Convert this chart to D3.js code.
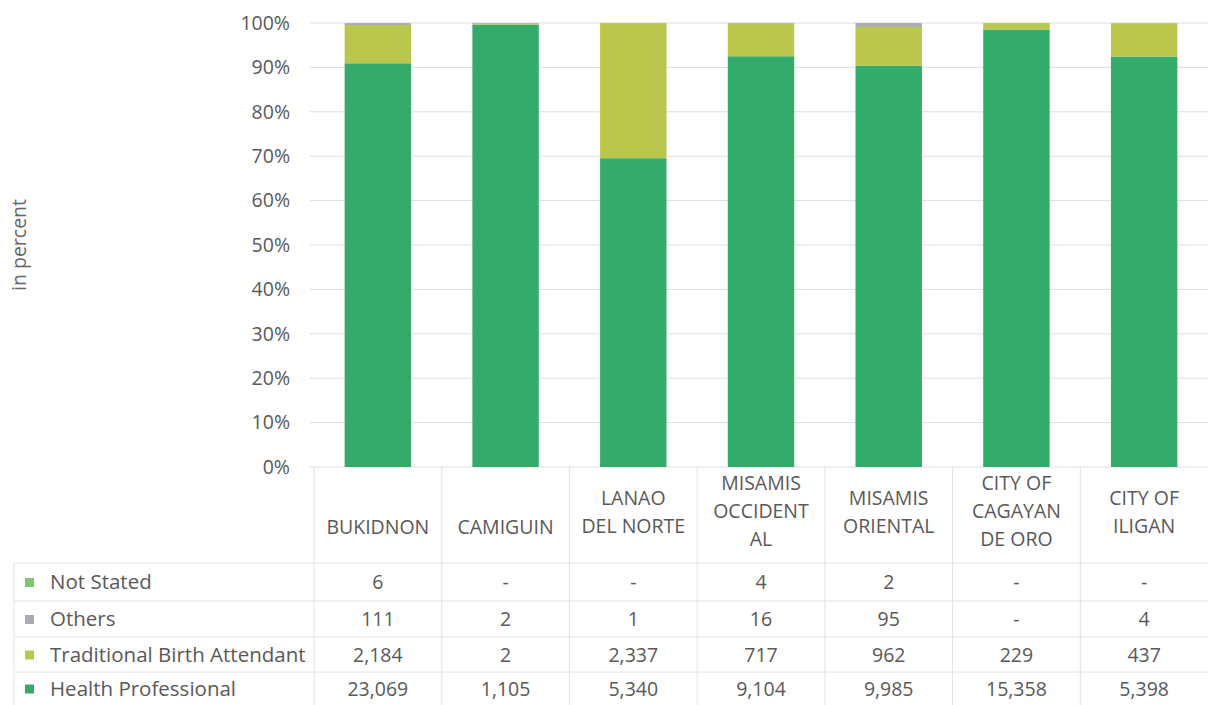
<!DOCTYPE html>
<html>
<head>
<meta charset="utf-8">
<script src="https://cdn.jsdelivr.net/npm/d3@7"></script>
<style>
  body { margin: 0; background: #fff; }
  svg { font-family: "Open Sans", sans-serif; }
</style>
</head>
<body>
<div id="chart"></div>
<script>
// data
const categories = ['BUKIDNON', 'CAMIGUIN', 'LANAO DEL NORTE', 'MISAMIS OCCIDENTAL', 'MISAMIS ORIENTAL', 'CITY OF CAGAYAN DE ORO', 'CITY OF ILIGAN'];
const categoryLines = [['BUKIDNON'], ['CAMIGUIN'], ['LANAO', 'DEL NORTE'], ['MISAMIS', 'OCCIDENT', 'AL'], ['MISAMIS', 'ORIENTAL'], ['CITY OF', 'CAGAYAN', 'DE ORO'], ['CITY OF', 'ILIGAN']];
const healthProfessional = [23069, 1105, 5340, 9104, 9985, 15358, 5398];
const traditionalBirthAttendant = [2184, 2, 2337, 717, 962, 229, 437];
const others = [111, 2, 1, 16, 95, null, 4];
const notStated = [6, null, null, 4, 2, null, null];
const yTicks = [0, 0.1, 0.2, 0.3, 0.4, 0.5, 0.6, 0.7, 0.8, 0.9, 1];

// bottom to top in the bars
const seriesNames = ['Health Professional', 'Traditional Birth Attendant', 'Others', 'Not Stated'];
const seriesValues = [healthProfessional, traditionalBirthAttendant, others, notStated];
const colors = ['#34aa6b', '#b9c84c', '#a9abb1', '#7ec56c'];

const width = 1210, height = 705;
const plotLeft = 314, plotRight = 1208, plotTop = 23, plotBottom = 467;
const fontSize = 19.5;

const svg = d3.select('#chart').append('svg')
    .attr('width', width)
    .attr('height', height);

const x = d3.scaleBand().domain(categories).range([plotLeft, plotRight]).paddingInner(0.48).paddingOuter(0.24);
const xCol = d3.scaleBand().domain(categories).range([plotLeft, plotRight]);
const y = d3.scaleLinear().domain([0, 1]).range([plotBottom, plotTop]);

// gridlines
svg.append('g')
    .selectAll('line')
    .data(yTicks)
    .enter().append('line')
    .attr('x1', plotLeft - 4)
    .attr('x2', plotRight)
    .attr('y1', d => y(d))
    .attr('y2', d => y(d))
    .attr('stroke', '#dedede')
    .attr('stroke-width', 1);

// y axis labels
const yAxis = svg.append('g')
    .attr('transform', `translate(${plotLeft - 4},0)`)
    .call(d3.axisLeft(y).tickValues(yTicks).tickFormat(d3.format('.0%')).tickSize(0).tickPadding(20));
yAxis.select('.domain').remove();
yAxis.selectAll('text')
    .attr('font-size', fontSize)
    .attr('font-family', '"Open Sans", sans-serif')
    .attr('fill', '#595959');

svg.append('text')
    .attr('transform', `translate(26,${(plotTop + plotBottom) / 2}) rotate(-90)`)
    .attr('text-anchor', 'middle')
    .attr('font-size', fontSize)
    .attr('fill', '#666')
    .text('in percent');

// stacked bars, as share of each category total
const rows = categories.map((c, i) => {
    const row = { category: c };
    seriesNames.forEach((s, k) => { row[s] = seriesValues[k][i] || 0; });
    return row;
});
const stack = d3.stack().keys(seriesNames).offset(d3.stackOffsetExpand);
const layers = stack(rows);

svg.append('g')
    .selectAll('g')
    .data(layers)
    .enter().append('g')
    .attr('fill', (d, i) => colors[i])
    .selectAll('rect')
    .data(d => d)
    .enter().append('rect')
    .attr('x', d => x(d.data.category))
    .attr('width', x.bandwidth())
    .attr('y', d => y(d[1]))
    .attr('height', d => Math.max(0, y(d[0]) - y(d[1])));

// data table
const rowLines = [plotBottom, 563, 601, 637, 672, 705];
const tableLeft = 14;
const grid = svg.append('g').attr('stroke', '#e2e2e2').attr('stroke-width', 1);
grid.selectAll('line.h')
    .data(rowLines.slice(1, 5))
    .enter().append('line')
    .attr('x1', tableLeft)
    .attr('x2', plotRight)
    .attr('y1', d => d)
    .attr('y2', d => d);
grid.selectAll('line.v')
    .data(categories)
    .enter().append('line')
    .attr('x1', d => xCol(d))
    .attr('x2', d => xCol(d))
    .attr('y1', plotBottom)
    .attr('y2', height);
grid.append('line')
    .attr('x1', tableLeft).attr('x2', tableLeft)
    .attr('y1', rowLines[1]).attr('y2', height);

// header labels
const header = svg.append('g')
    .selectAll('text')
    .data(categories)
    .enter().append('text')
    .attr('text-anchor', 'middle')
    .attr('font-size', fontSize)
    .attr('fill', '#595959');
header.each(function(d, i) {
    const lines = categoryLines[i];
    const first = lines.length === 3 ? 490 : 534 - (lines.length - 1) * 29;
    d3.select(this).selectAll('tspan')
        .data(lines)
        .enter().append('tspan')
        .attr('x', xCol(d) + xCol.bandwidth() / 2)
        .attr('y', (l, j) => first + j * 28)
        .text(l => l);
});

// table rows, top to bottom
const tableOrder = [3, 2, 1, 0];
const fmt = d3.format(',');
tableOrder.forEach((k, r) => {
    const cy = (rowLines[r + 1] + rowLines[r + 2]) / 2;
    svg.append('rect')
        .attr('x', 25)
        .attr('y', cy - 4)
        .attr('width', 9)
        .attr('height', 9)
        .attr('fill', colors[k]);
    svg.append('text')
        .attr('x', 50)
        .attr('y', cy + 7)
        .attr('font-size', 20.5)
        .attr('fill', '#595959')
        .text(seriesNames[k]);
    svg.append('g')
        .selectAll('text')
        .data(seriesValues[k])
        .enter().append('text')
        .attr('x', (d, i) => xCol(categories[i]) + xCol.bandwidth() / 2)
        .attr('y', cy + 7)
        .attr('text-anchor', 'middle')
        .attr('font-size', fontSize)
        .attr('fill', '#595959')
        .text(d => d == null ? '-' : fmt(d));
});
</script>
</body>
</html>
